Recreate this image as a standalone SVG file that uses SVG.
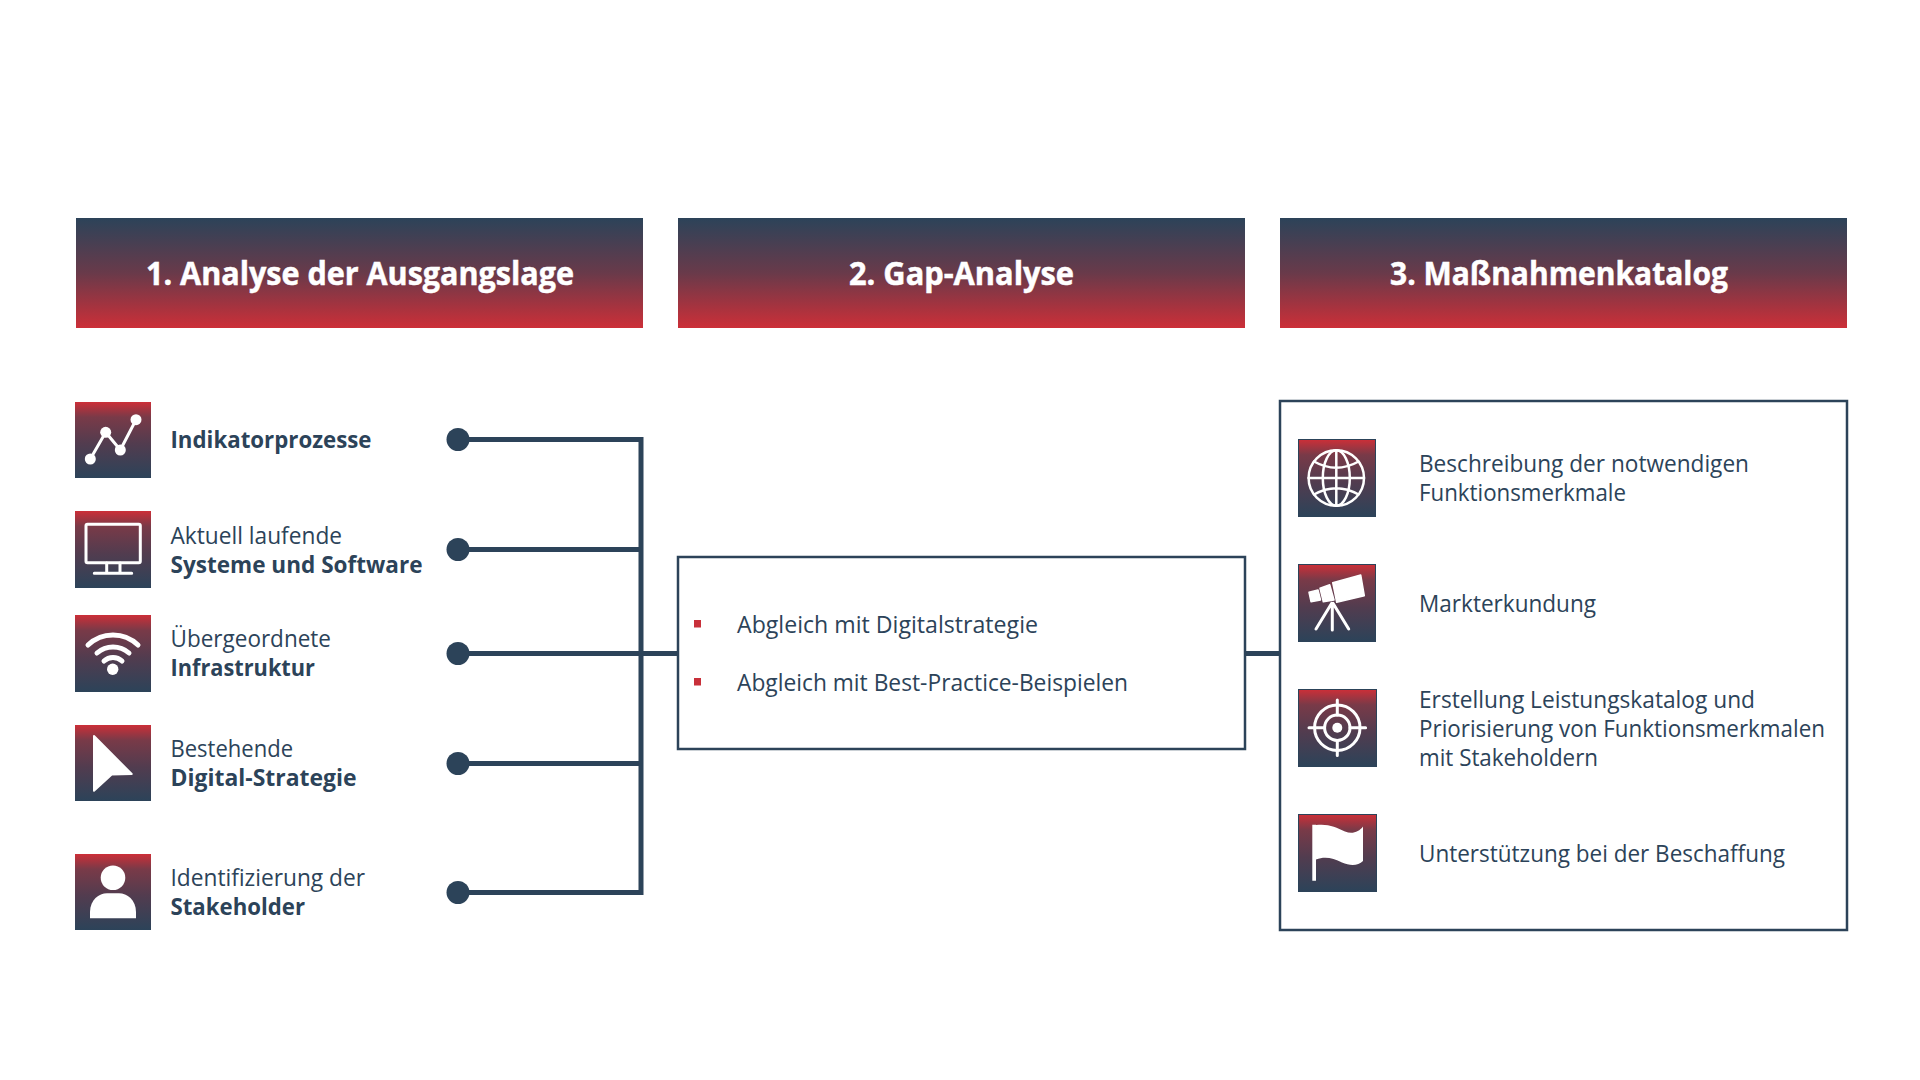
<svg xmlns="http://www.w3.org/2000/svg" width="1920" height="1080" viewBox="0 0 1920 1080">
<style>
text{font-family:"Open Sans","Noto Sans","Liberation Sans",sans-serif;fill:#2c4359}
.t{font-size:23px}
.b{font-size:23px;font-weight:700}
.h{font-size:32px;font-weight:700;fill:#fff;stroke:#fff;stroke-width:.5px}
.line{fill:none;stroke:#2c4359;stroke-width:5}
.dot{fill:#2c4359}
.box{fill:#fff;stroke:#2c4359;stroke-width:2.5}
.ic{fill:url(#gi)}
.ic2{fill:url(#gi);stroke:#2c4359;stroke-width:1}
.w{fill:#fff}
.s{fill:none;stroke:#fff;stroke-width:3;stroke-linecap:round;stroke-linejoin:round}
.bul{fill:#c8303a}
</style>
<defs>
<linearGradient id="gh" x1="0" y1="0" x2="0" y2="1"><stop offset="0" stop-color="#2c4359"/><stop offset=".5" stop-color="#693a4a"/><stop offset="1" stop-color="#cc2f38"/></linearGradient>
<linearGradient id="gi" x1="0" y1="0" x2="0" y2="1"><stop offset="0" stop-color="#cc2f38"/><stop offset=".2" stop-color="#793a48"/><stop offset=".55" stop-color="#523c4f"/><stop offset="1" stop-color="#2c4359"/></linearGradient>
</defs>
<rect width="1920" height="1080" fill="#fff"/>

<g id="connectors">
<path class="line" d="M458 439.500H641M458 549.500H641M458 653.500H677M458 763.500H641M458 892.500H641M641 437V895M1245 653.500H1280"/>
</g>

<g id="header-1"><rect x="76" y="218" width="567" height="110" fill="url(#gh)"/><text class="h" x="146" y="285" textLength="428" lengthAdjust="spacingAndGlyphs">1. Analyse der Ausgangslage</text></g>
<g id="header-2"><rect x="678" y="218" width="567" height="110" fill="url(#gh)"/><text class="h" x="849" y="285" textLength="225" lengthAdjust="spacingAndGlyphs">2. Gap-Analyse</text></g>
<g id="header-3"><rect x="1280" y="218" width="567" height="110" fill="url(#gh)"/><text class="h" x="1390" y="285" textLength="338" lengthAdjust="spacingAndGlyphs">3. Maßnahmenkatalog</text></g>

<g id="node-indikator">
<g transform="translate(75 402)"><rect class="ic" width="76" height="76"/><path class="s" d="M15.300 57L30.700 30.300L45.300 48L61 17.700"/><circle class="w" cx="15.300" cy="57" r="5.500"/><circle class="w" cx="30.700" cy="30.300" r="5.500"/><circle class="w" cx="45.300" cy="48" r="5.500"/><circle class="w" cx="61" cy="17.700" r="5.500"/></g>
<text class="b" x="170.500" y="448" textLength="201" lengthAdjust="spacingAndGlyphs">Indikatorprozesse</text>
<circle class="dot" cx="458" cy="439.500" r="11.500"/>
</g>
<g id="node-systeme">
<g transform="translate(75 511)"><rect class="ic" width="76" height="77"/><rect class="s" x="11" y="13.300" width="54.300" height="38.400" rx="1.500"/><path class="s" d="M31.700 52V62M45 52V62M19.300 62.300H56.700"/></g>
<text class="t" x="170.500" y="544" textLength="171.500" lengthAdjust="spacingAndGlyphs">Aktuell laufende</text>
<text class="b" x="170.500" y="573" textLength="252" lengthAdjust="spacingAndGlyphs">Systeme und Software</text>
<circle class="dot" cx="458" cy="549.500" r="11.500"/>
</g>
<g id="node-infrastruktur">
<g transform="translate(75 615)"><rect class="ic" width="76" height="77"/><path class="s" style="stroke-width:5" d="M13 30A36 36 0 0 1 63 30M22 38A24 24 0 0 1 54 38M29 46A13 13 0 0 1 47 46"/><circle class="w" cx="37.700" cy="54.300" r="5.700"/></g>
<text class="t" x="170.500" y="647" textLength="160.500" lengthAdjust="spacingAndGlyphs">Übergeordnete</text>
<text class="b" x="170.500" y="676" textLength="144.500" lengthAdjust="spacingAndGlyphs">Infrastruktur</text>
<circle class="dot" cx="458" cy="653.500" r="11.500"/>
</g>
<g id="node-strategie">
<g transform="translate(75 725)"><rect class="ic" width="76" height="76"/><path class="w" stroke="#fff" stroke-width="2" stroke-linejoin="round" d="M19 11L56.700 49L36.700 49.500L19 65.700Z"/></g>
<text class="t" x="170.500" y="757" textLength="122.500" lengthAdjust="spacingAndGlyphs">Bestehende</text>
<text class="b" x="170.500" y="786" textLength="186" lengthAdjust="spacingAndGlyphs">Digital-Strategie</text>
<circle class="dot" cx="458" cy="763.500" r="11.500"/>
</g>
<g id="node-stakeholder">
<g transform="translate(75 854)"><rect class="ic" width="76" height="76"/><circle class="w" cx="38" cy="23.700" r="12.300"/><path class="w" d="M15 64.300V58C15 46 24 39.300 32 39.300H44C52 39.300 61 46 61 58V64.300Z"/></g>
<text class="t" x="170.500" y="886" textLength="194.500" lengthAdjust="spacingAndGlyphs">Identifizierung der</text>
<text class="b" x="170.500" y="915" textLength="134.500" lengthAdjust="spacingAndGlyphs">Stakeholder</text>
<circle class="dot" cx="458" cy="892.500" r="11.500"/>
</g>

<g id="node-gap">
<rect class="box" x="678" y="557" width="567" height="192"/>
<rect class="bul" x="694" y="620" width="7" height="7.500"/>
<text class="t" x="737" y="632.500" textLength="301" lengthAdjust="spacingAndGlyphs">Abgleich mit Digitalstrategie</text>
<rect class="bul" x="694" y="678" width="7" height="7.500"/>
<text class="t" x="737" y="690.500" textLength="391" lengthAdjust="spacingAndGlyphs">Abgleich mit Best-Practice-Beispielen</text>
</g>

<g id="node-katalog">
<rect class="box" x="1280" y="401" width="567" height="529"/>
<g id="item-funktion">
<g transform="translate(1298 439)"><rect class="ic2" x=".5" y=".5" width="77" height="77"/><g class="s" style="stroke-width:2.500"><circle cx="38.300" cy="39" r="27.700"/><ellipse cx="38.300" cy="39" rx="13.500" ry="27.700"/><path d="M38.300 11.300V66.700M10.600 39H66M16 22.500Q38.300 35 60.600 22.500M16 55.500Q38.300 43 60.600 55.500"/></g></g>
<text class="t" x="1419" y="472" textLength="330" lengthAdjust="spacingAndGlyphs">Beschreibung der notwendigen</text>
<text class="t" x="1419" y="501" textLength="207" lengthAdjust="spacingAndGlyphs">Funktionsmerkmale</text>
</g>
<g id="item-markt">
<g transform="translate(1298 564)"><rect class="ic2" x=".5" y=".5" width="77" height="77"/><path class="w" stroke="#fff" stroke-width="1.500" stroke-linejoin="round" d="M34.700 18.700L62.700 11L66.300 31.700L38.700 38.300ZM22 24.300L31.700 20.800L36 36L25.300 37.700ZM11 28.300L20 26L22.500 36L13 37.700Z"/><path class="s" d="M33.700 39.300L18 65M34.300 40V66M35 39.300L50.700 65"/></g>
<text class="t" x="1419" y="612" textLength="177" lengthAdjust="spacingAndGlyphs">Markterkundung</text>
</g>
<g id="item-leistung">
<g transform="translate(1298 689)"><rect class="ic2" x=".5" y=".5" width="78" height="77"/><g class="s" style="stroke-width:3"><circle cx="39.300" cy="38.700" r="22.700"/><circle cx="39.300" cy="38.700" r="12.700"/><path d="M11 38.700H26.500M52 38.700H67.600M39.300 11V26M39.300 51.500V66.500"/></g><circle class="w" cx="39.300" cy="38.700" r="5"/></g>
<text class="t" x="1419" y="708" textLength="336" lengthAdjust="spacingAndGlyphs">Erstellung Leistungskatalog und</text>
<text class="t" x="1419" y="737" textLength="406" lengthAdjust="spacingAndGlyphs">Priorisierung von Funktionsmerkmalen</text>
<text class="t" x="1419" y="766" textLength="179" lengthAdjust="spacingAndGlyphs">mit Stakeholdern</text>
</g>
<g id="item-beschaffung">
<g transform="translate(1298 814)"><rect class="ic2" x=".5" y=".5" width="78" height="77"/><path class="w" d="M14.300 10.700H18V66.700H14.300ZM18 11C30 9.500 38 13 47 17.500C54 20.500 61 18 65 12.500V47C60 52 52 52 44 48.500C35 44 27 42 18 45.500Z"/></g>
<text class="t" x="1419" y="862" textLength="366" lengthAdjust="spacingAndGlyphs">Unterstützung bei der Beschaffung</text>
</g>
</g>
</svg>
